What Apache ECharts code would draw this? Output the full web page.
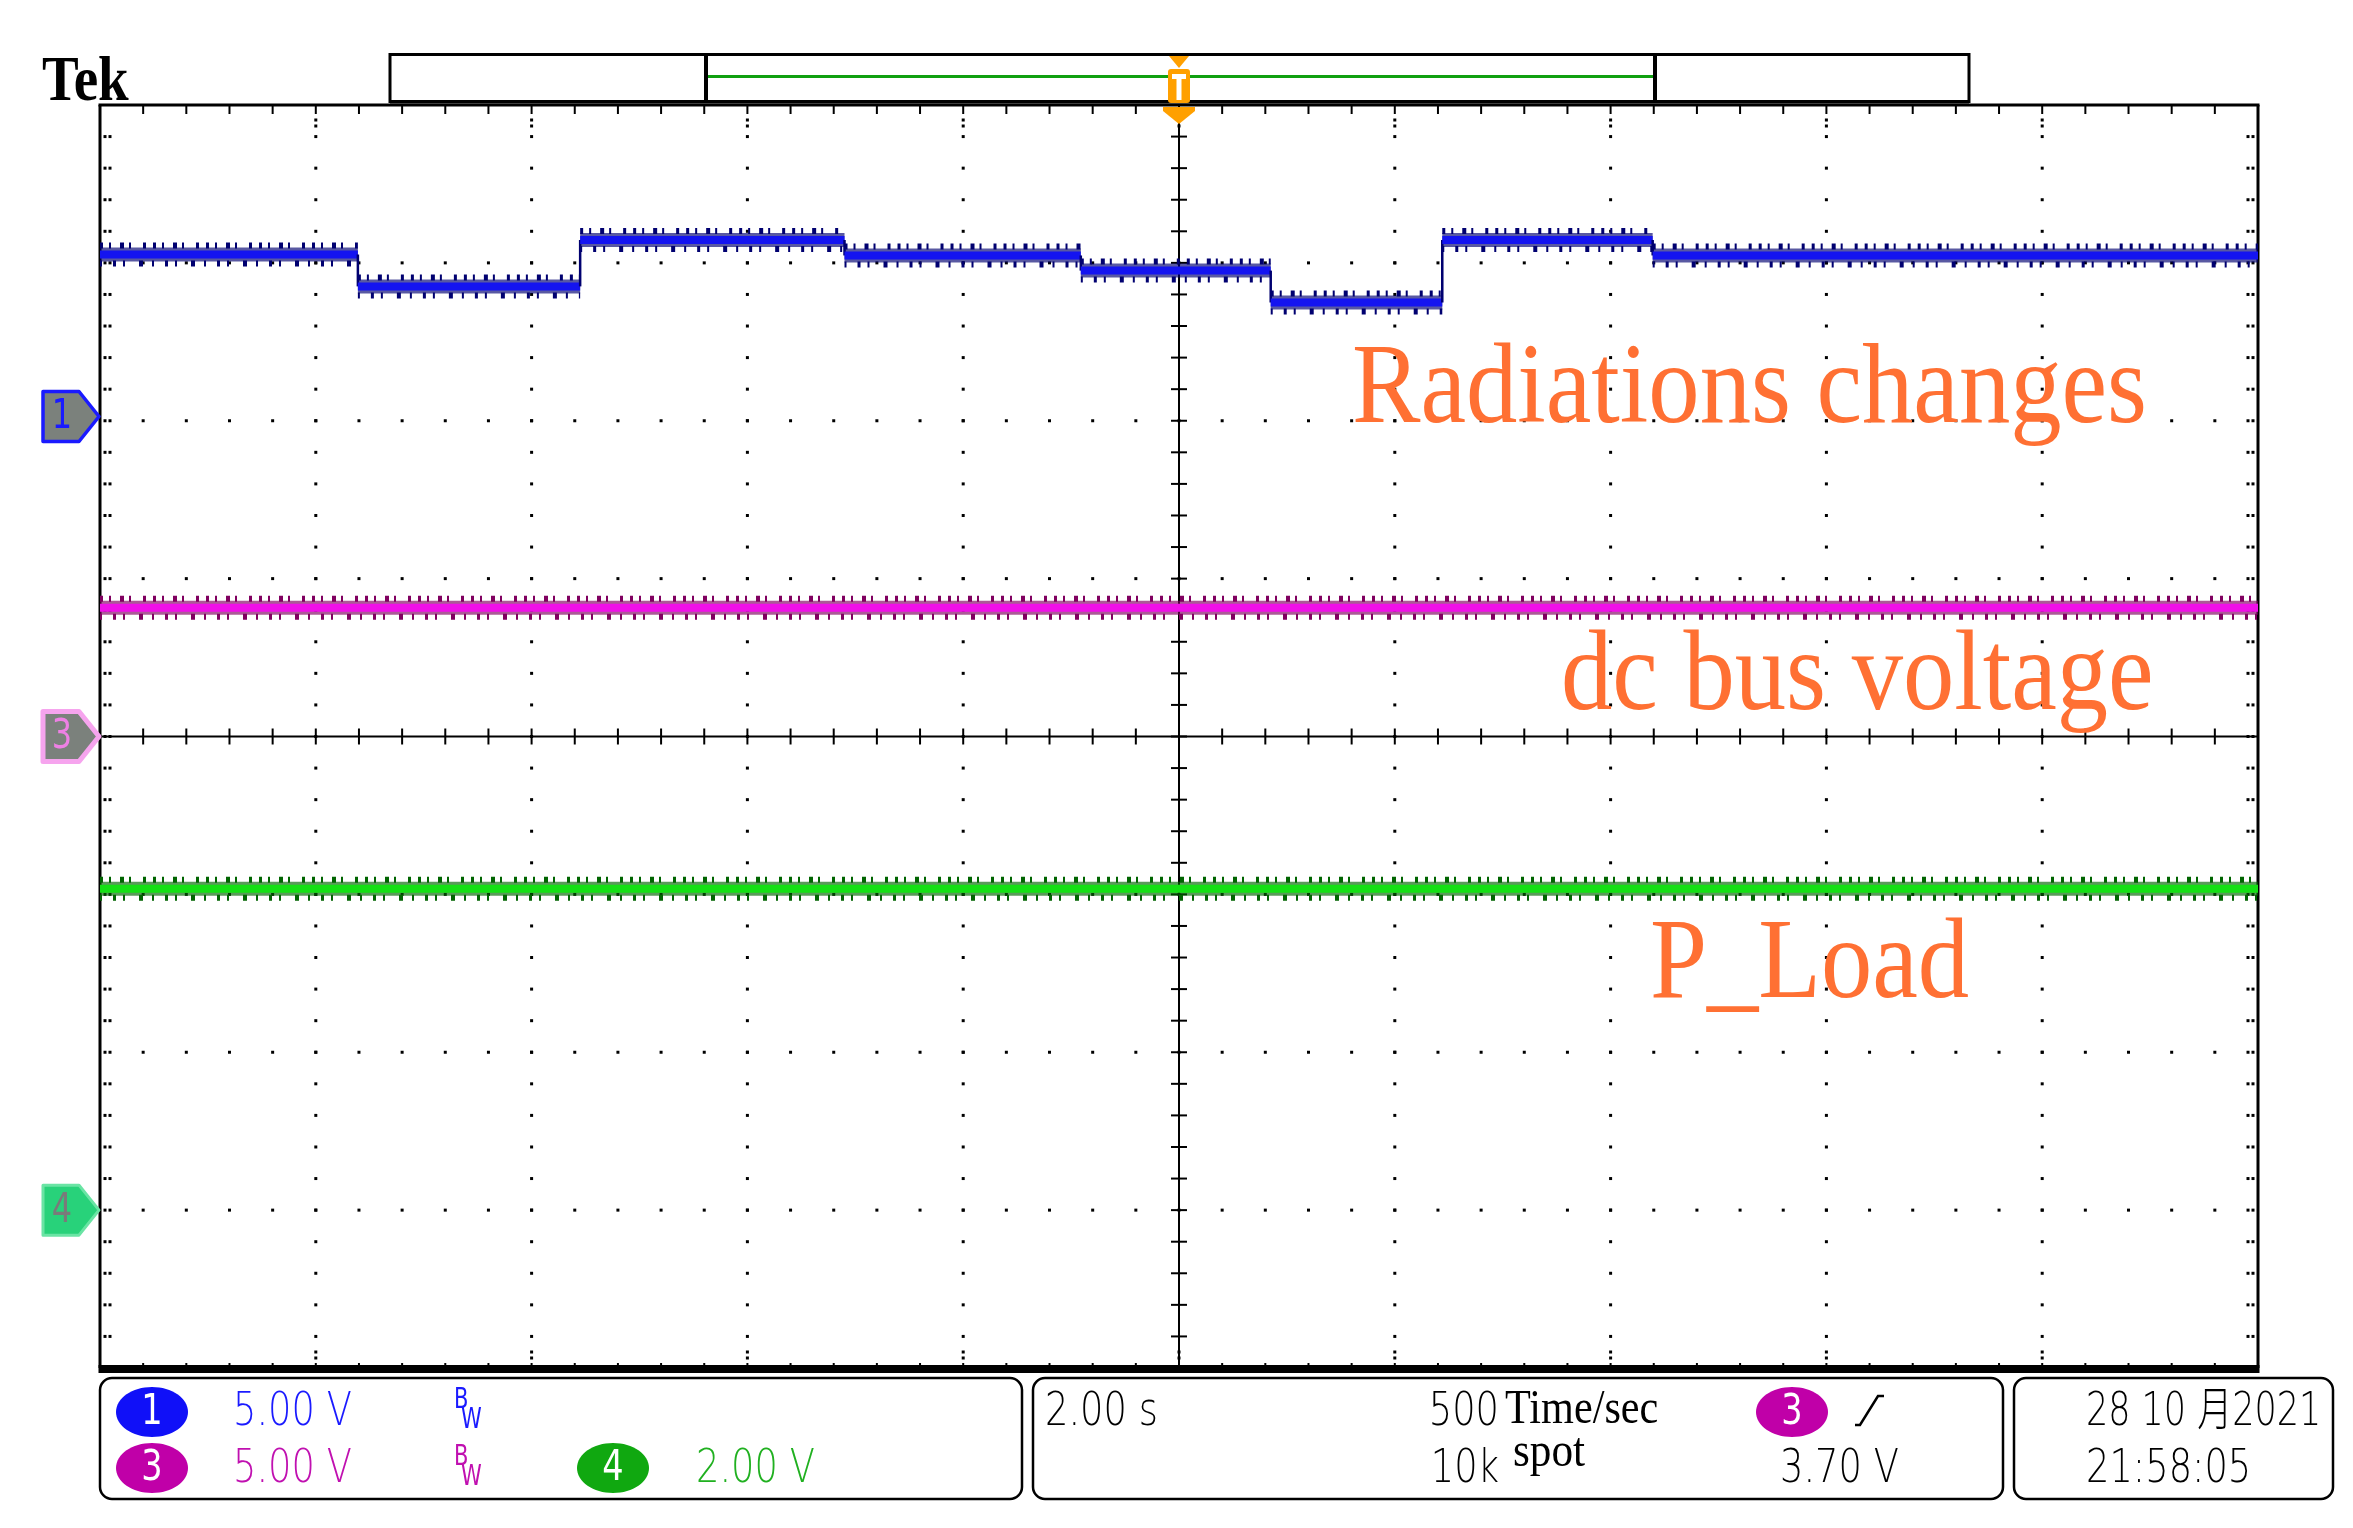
<!DOCTYPE html>
<html><head><meta charset="utf-8">
<script src="https://cdn.jsdelivr.net/npm/echarts@6/dist/echarts.min.js"></script>
<style>html,body{margin:0;padding:0;background:#fff}#c{width:2353px;height:1528px}</style>
</head><body><div id="c"></div>
<script>
// ---- time axis: 2.00 s/div, 10 divisions, trigger at centre (seconds) ----
const timeTicks = [-10, -8, -6, -4, -2, 0, 2, 4, 6, 8, 10];
// ---- Channel 1 : Radiations changes (5.00 V/div) ----
const ch1Times = [-10, -7.61, -5.55, -3.10, -0.91, 0.85, 2.44, 4.39, 10];
const ch1Volts = [5.13, 4.12, 5.59, 5.10, 4.62, 3.61, 5.59, 5.10, 5.10];
// ---- Channel 3 : dc bus voltage (5.00 V/div) ----
const ch3Times = [-10, 10];
const ch3Volts = [4.08, 4.08];
// ---- Channel 4 : P_Load (2.00 V/div) ----
const ch4Times = [-10, 10];
const ch4Volts = [4.07, 4.07];
// channel settings: volts per division, ground-marker offset in divisions
const ch1Scale = 5, ch1Offset = 2.027;
const ch3Scale = 5, ch3Offset = 0;
const ch4Scale = 2, ch4Offset = -3;

function segs(times, volts) {
  const out = [];
  for (let i = 0; i < times.length - 1; i++) {
    const vn = i + 1 < times.length - 1 ? volts[i + 1] : volts[i];
    out.push([times[i], times[i + 1], volts[i], vn]);
  }
  return out;
}

const chart = echarts.init(document.getElementById('c'), null, {renderer: 'canvas'});

function gratRender(params, api) {
  const tl = api.coord([-10, 4]), br = api.coord([10, -4]);
  const L = tl[0], Tp = tl[1], R = br[0], B = br[1];
  const c = api.coord([0, 0]);
  const ch = [];
  const dot = (x, y) => ch.push({type: 'rect', shape: {x: x - 1.5, y: y - 1.5, width: 3, height: 3}, style: {fill: '#000'}});
  const ln = (x1, y1, x2, y2, w) => ch.push({type: 'line', shape: {x1, y1, x2, y2}, style: {stroke: '#000', lineWidth: w || 2}});
  // dotted major gridlines
  for (const t of timeTicks) {
    if (t === -10 || t === 10 || t === 0) continue;
    const x = api.coord([t, 0])[0];
    for (let k = 1; k < 40; k++) dot(x, api.coord([0, -4 + k * 0.2])[1]);
  }
  for (let d = -3; d <= 3; d++) {
    if (d === 0) continue;
    const y = api.coord([0, d])[1];
    for (let k = 1; k < 50; k++) dot(api.coord([-10 + k * 0.4, 0])[0], y);
  }
  // centre lines with minor ticks
  ln(L, c[1], R, c[1], 2);
  ln(c[0], Tp, c[0], B, 2);
  for (let k = 1; k < 50; k++) {
    const x = api.coord([-10 + k * 0.4, 0])[0];
    ln(x, c[1] - 8, x, c[1] + 8, 2);
    ln(x, Tp, x, Tp + 9, 2);
    ln(x, B - 5, x, B, 2);
    if (k % 5 === 0) { dot(x, B - 10); dot(x, B - 16); dot(x, Tp + 15); dot(x, Tp + 21); }
  }
  for (let k = 1; k < 40; k++) {
    const y = api.coord([0, -4 + k * 0.2])[1];
    ln(c[0] - 8, y, c[0] + 8, y, 2);
    dot(L + 5, y); dot(L + 10, y);
    dot(R - 5, y); dot(R - 10, y);
  }
  // borders
  ln(L, Tp, L, B, 3);
  ln(R, Tp, R, B, 3);
  ln(L - 1.5, Tp, R + 1.5, Tp, 3);
  ch.push({type: 'rect', shape: {x: L - 1.5, y: B - 3, width: R - L + 3, height: 8}, style: {fill: '#000'}});
  // trigger position marker (orange)
  const tx = api.coord([0, 4])[0];
  const org = '#ffa000';
  ch.push({type: 'polygon', shape: {points: [[tx - 10, Tp - 49], [tx + 10, Tp - 49], [tx, Tp - 37]]}, style: {fill: org}});
  ch.push({type: 'rect', shape: {x: tx - 11, y: Tp - 36, width: 22, height: 34, r: 3}, style: {fill: org}});
  ch.push({type: 'rect', shape: {x: tx - 7, y: Tp - 31, width: 14, height: 5}, style: {fill: '#fff'}});
  ch.push({type: 'rect', shape: {x: tx - 2.5, y: Tp - 31, width: 5, height: 26}, style: {fill: '#fff'}});
  ch.push({type: 'polygon', shape: {points: [[tx - 16, Tp + 2], [tx + 16, Tp + 2], [tx + 16, Tp + 6], [tx, Tp + 19], [tx - 16, Tp + 6]]}, style: {fill: org}});
  return {type: 'group', children: ch};
}

function traceRender(cfg) {
  return function (params, api) {
    const t0 = api.value(0), t1 = api.value(1), v = api.value(2), vn = api.value(3);
    const p0 = api.coord([t0, v]), p1 = api.coord([t1, v]);
    const w = p1[0] - p0[0], y = p0[1];
    const ch = [
      {type: 'rect', shape: {x: p0[0], y: y - 7, width: w, height: 14}, style: {fill: cfg.dark, opacity: 0.65}},
      {type: 'line', shape: {x1: p0[0], y1: y - 9, x2: p1[0], y2: y - 9}, style: {stroke: cfg.dark, lineWidth: 6, lineDash: [3, 6, 2, 9, 4, 5, 2, 12, 3, 7]}},
      {type: 'line', shape: {x1: p0[0], y1: y + 9, x2: p1[0], y2: y + 9}, style: {stroke: cfg.dark, lineWidth: 6, lineDash: [2, 11, 3, 7, 2, 14, 4, 9]}},
      {type: 'rect', shape: {x: p0[0], y: y - 4, width: w, height: 8}, style: {fill: cfg.bright}}
    ];
    if (vn !== v) {
      const q = api.coord([t1, vn]);
      ch.push({type: 'line', shape: {x1: p1[0], y1: y, x2: q[0], y2: q[1]}, style: {stroke: cfg.dark, lineWidth: 2.5}});
    }
    if (params.dataIndex === 0) {
      const m = api.coord([t0, 0]);
      const X = m[0] - 1, Y = m[1];
      ch.push({type: 'polygon', shape: {points: [[X - 56, Y - 25], [X - 20, Y - 25], [X, Y], [X - 20, Y + 25], [X - 56, Y + 25]]},
        style: {fill: cfg.mFill, stroke: cfg.mStroke, lineWidth: cfg.mLw, lineJoin: 'round'}});
      ch.push({type: 'text', x: X - 37, y: Y + 1, scaleX: 0.8, style: {text: cfg.label, font: '40px "DejaVu Sans"', fill: cfg.mText, textAlign: 'center', textVerticalAlign: 'middle'}});
    }
    return {type: 'group', children: ch};
  };
}

const sansF = (s) => '200 ' + s + 'px "DejaVu Sans", "Noto Sans CJK SC"';
function txt(text, x, y, fill, opts) {
  opts = opts || {};
  return {type: 'text', x, y, scaleX: opts.sx || 0.8, z: 20,
    style: {text, font: opts.font || sansF(46), fill, textAlign: opts.align || 'left', textVerticalAlign: 'middle'}};
}
function pill(cx, cy, color, label) {
  return [
    {type: 'ellipse', shape: {cx, cy, rx: 36, ry: 25}, style: {fill: color}, z: 19},
    {type: 'text', x: cx, y: cy + 1, scaleX: 0.8, z: 20, style: {text: label, font: '42px "DejaVu Sans"', fill: '#fff', textAlign: 'center', textVerticalAlign: 'middle'}}
  ];
}
const orange = '#ff7033';
const annFont = '114px "Liberation Serif"';
const bwFont = '28px "DejaVu Sans"';
const graphics = [
  // Tek logo
  {type: 'text', x: 42, y: 83, scaleX: 0.86, style: {text: 'Tek', font: 'bold 64px "Liberation Serif"', fill: '#000', textVerticalAlign: 'middle'}},
  // record bar
  {type: 'rect', shape: {x: 390, y: 54.5, width: 1579, height: 47}, style: {fill: 'none', stroke: '#000', lineWidth: 3}},
  {type: 'line', shape: {x1: 707, y1: 76.5, x2: 1654, y2: 76.5}, style: {stroke: '#10a010', lineWidth: 3}},
  {type: 'line', shape: {x1: 706, y1: 55, x2: 706, y2: 103}, style: {stroke: '#000', lineWidth: 4}},
  {type: 'line', shape: {x1: 1655, y1: 55, x2: 1655, y2: 103}, style: {stroke: '#000', lineWidth: 4}},
  {type: 'line', shape: {x1: 390, y1: 102, x2: 1969, y2: 102}, style: {stroke: '#000', lineWidth: 3}},
  // annotations
  {type: 'text', x: 1352, y: 392, scaleX: 0.9, z: 30, style: {text: 'Radiations changes', font: annFont, fill: orange, textVerticalAlign: 'middle'}},
  {type: 'text', x: 1561, y: 679, scaleX: 0.9, z: 30, style: {text: 'dc bus voltage', font: annFont, fill: orange, textVerticalAlign: 'middle'}},
  {type: 'text', x: 1650, y: 967, scaleX: 0.9, z: 30, style: {text: 'P_Load', font: annFont, fill: orange, textVerticalAlign: 'middle'}},
  // info boxes
  {type: 'rect', shape: {x: 100, y: 1378, width: 922, height: 121, r: 12}, style: {fill: 'none', stroke: '#000', lineWidth: 2.5}},
  {type: 'rect', shape: {x: 1033, y: 1378, width: 970, height: 121, r: 12}, style: {fill: 'none', stroke: '#000', lineWidth: 2.5}},
  {type: 'rect', shape: {x: 2014, y: 1378, width: 319, height: 121, r: 12}, style: {fill: 'none', stroke: '#000', lineWidth: 2.5}},
  ...pill(152, 1412, '#1010f8', '1'),
  txt('5.00 V', 233, 1413, '#1a1aff'),
  txt('B', 454, 1401, '#1a1aff', {font: bwFont, sx: 0.75}),
  txt('W', 461, 1421, '#1a1aff', {font: bwFont, sx: 0.75}),
  ...pill(152, 1468, '#c000a8', '3'),
  txt('5.00 V', 233, 1470, '#c010b0'),
  txt('B', 454, 1458, '#c010b0', {font: bwFont, sx: 0.75}),
  txt('W', 461, 1478, '#c010b0', {font: bwFont, sx: 0.75}),
  ...pill(613, 1468, '#10a810', '4'),
  txt('2.00 V', 696, 1470, '#20b020'),
  txt('2.00 s', 1045, 1413, '#000'),
  txt('500', 1499, 1413, '#000', {align: 'right'}),
  {type: 'text', x: 1505, y: 1410, scaleX: 0.88, style: {text: 'Time/sec', font: '48px "Liberation Serif"', fill: '#000', textVerticalAlign: 'middle'}},
  txt('10k', 1499, 1470, '#000', {align: 'right'}),
  {type: 'text', x: 1513, y: 1453, scaleX: 0.9, style: {text: 'spot', font: '48px "Liberation Serif"', fill: '#000', textVerticalAlign: 'middle'}},
  ...pill(1792, 1412, '#c000a8', '3'),
  {type: 'polyline', shape: {points: [[1855, 1425], [1860, 1425], [1878, 1396], [1884, 1396]]}, style: {stroke: '#000', lineWidth: 2.5, fill: 'none'}},
  txt('3.70 V', 1780, 1470, '#000'),
  txt('28 10 月2021', 2086, 1413, '#000', {sx: 0.76}),
  txt('21:58:05', 2086, 1470, '#000')
];

const option = {
  animation: false,
  backgroundColor: '#fff',
  grid: {left: 100, top: 105, right: 95, bottom: 160, show: false},
  xAxis: [{type: 'value', min: -10, max: 10, interval: 2, show: false}],
  yAxis: [
    {type: 'value', min: -4, max: 4, interval: 1, show: false},
    {type: 'value', min: -(4 + ch1Offset) * ch1Scale, max: (4 - ch1Offset) * ch1Scale, show: false},
    {type: 'value', min: -(4 + ch3Offset) * ch3Scale, max: (4 - ch3Offset) * ch3Scale, show: false},
    {type: 'value', min: -(4 + ch4Offset) * ch4Scale, max: (4 - ch4Offset) * ch4Scale, show: false}
  ],
  series: [
    {type: 'custom', name: 'graticule', xAxisIndex: 0, yAxisIndex: 0, clip: false, silent: true, z: 1,
      data: [[0, 0]], renderItem: gratRender},
    {type: 'custom', name: 'CH1 Radiations changes', xAxisIndex: 0, yAxisIndex: 1, clip: false, z: 3,
      encode: {x: [0, 1], y: [2]}, data: segs(ch1Times, ch1Volts),
      renderItem: traceRender({bright: '#1414f0', dark: '#000070', label: '1', mFill: '#7b817c', mStroke: '#1a1aff', mLw: 3.5, mText: '#1a1aff'})},
    {type: 'custom', name: 'CH3 dc bus voltage', xAxisIndex: 0, yAxisIndex: 2, clip: false, z: 3,
      encode: {x: [0, 1], y: [2]}, data: segs(ch3Times, ch3Volts),
      renderItem: traceRender({bright: '#f010e8', dark: '#800060', label: '3', mFill: '#7b817c', mStroke: '#f6a4ee', mLw: 5, mText: '#ee80e4'})},
    {type: 'custom', name: 'CH4 P_Load', xAxisIndex: 0, yAxisIndex: 3, clip: false, z: 3,
      encode: {x: [0, 1], y: [2]}, data: segs(ch4Times, ch4Volts),
      renderItem: traceRender({bright: '#14e014', dark: '#006400', label: '4', mFill: '#28d27a', mStroke: '#6ae4a4', mLw: 3, mText: '#7a7a7a'})}
  ],
  graphic: graphics
};
chart.setOption(option);
</script>
</body></html>
